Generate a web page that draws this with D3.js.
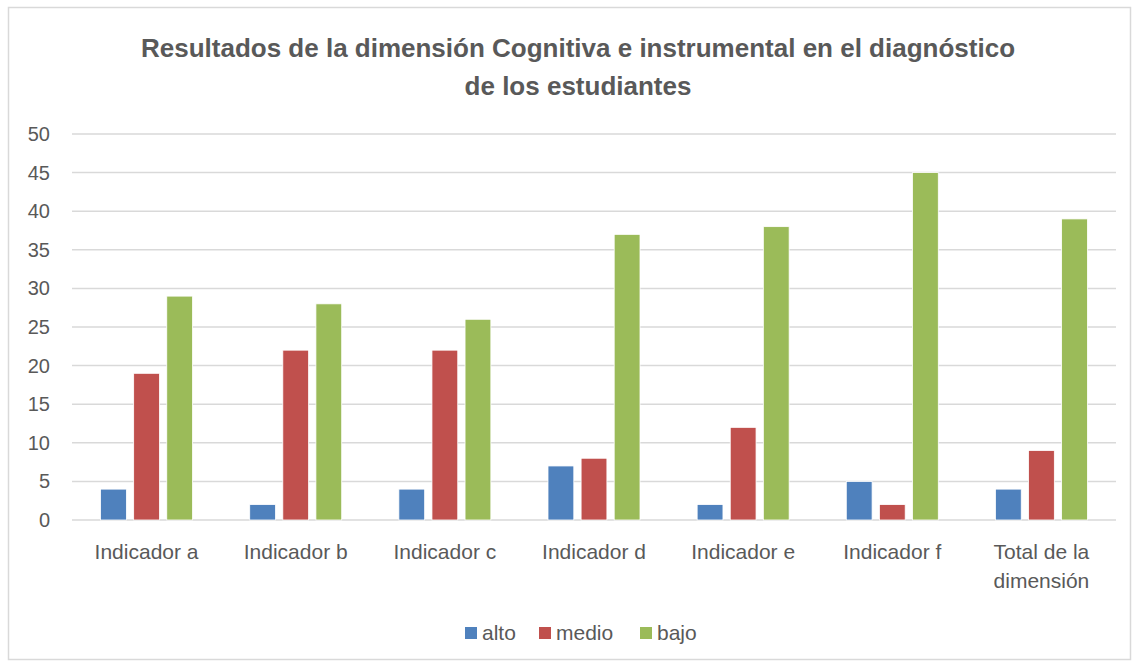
<!DOCTYPE html>
<html>
<head>
<meta charset="utf-8">
<script src="https://cdn.jsdelivr.net/npm/d3@7"></script>
<style>
  body { margin: 0; background: #fff; }
  text { font-family: "Liberation Sans", Arial, sans-serif; }
</style>
</head>
<body>
<div class="chart"></div>
<script>
// chart data
const categories = ["Indicador a", "Indicador b", "Indicador c", "Indicador d", "Indicador e", "Indicador f", "Total de la dimensión"];
const seriesNames = ["alto", "medio", "bajo"];
const alto = [4, 2, 4, 7, 2, 5, 4];
const medio = [19, 22, 22, 8, 12, 2, 9];
const bajo = [29, 28, 26, 37, 38, 45, 39];
const yTicks = [0, 5, 10, 15, 20, 25, 30, 35, 40, 45, 50];
const colors = ["#4F81BD", "#C0504D", "#9BBB59"];

const width = 1142, height = 669;
const margin = {top: 134, right: 26, bottom: 149, left: 72};

let svg = d3.select('.chart').append('svg').attr('width', width).attr('height', height);

// outer frame
svg.append('rect').attr('x', 8.5).attr('y', 7.5).attr('width', 1122).attr('height', 652)
    .style('fill', '#fff').style('stroke', '#D9D9D9').style('stroke-width', 1.5);

// title
let title = svg.append('text').attr('text-anchor', 'middle')
    .style('font-size', '26px').style('font-weight', 'bold').style('fill', '#595959');
title.append('tspan').attr('x', 578).attr('y', 57)
    .text("Resultados de la dimensión Cognitiva e instrumental en el diagnóstico");
title.append('tspan').attr('x', 578).attr('y', 95).text("de los estudiantes");
title.selectAll('tspan').each(function(d, i) {
    let target = i == 0 ? 884 : 232;
    let len = this.getComputedTextLength();
    if (len > target) d3.select(this).attr('textLength', target).attr('lengthAdjust', 'spacingAndGlyphs');
});

let x = d3.scaleBand().domain(categories).range([margin.left, width - margin.right]);
let y = d3.scaleLinear().domain([0, 50]).range([height - margin.bottom, margin.top]);
let inner = d3.scaleBand().domain(seriesNames).range([0, 92]).paddingInner(0.22);

// gridlines
svg.append('g').selectAll('line').data(yTicks).enter().append('line')
    .attr('x1', margin.left).attr('x2', width - margin.right)
    .attr('y1', d => y(d)).attr('y2', d => y(d))
    .style('stroke', '#D9D9D9').style('stroke-width', 1.5);

// y axis labels
let yAxis = d3.axisLeft(y).tickValues(yTicks).tickSize(0).tickPadding(0);
let yg = svg.append('g').attr('transform', 'translate(50,0)').call(yAxis);
yg.select('.domain').remove();
yg.selectAll('text').style('font-size', '20px').style('fill', '#595959')
    .style('font-family', '"Liberation Sans", Arial, sans-serif');

// bars
let rows = categories.map((c, i) => ({cat: c, vals: [alto[i], medio[i], bajo[i]]}));
let groups = svg.append('g').selectAll('g').data(rows).enter().append('g')
    .attr('transform', d => 'translate(' + (x(d.cat) + x.bandwidth() / 2 - 46) + ',0)');
groups.selectAll('rect').data(d => d.vals.map((v, j) => ({name: seriesNames[j], v: v, j: j})))
    .enter().append('rect')
    .attr('x', d => inner(d.name))
    .attr('width', inner.bandwidth())
    .attr('y', d => y(d.v))
    .attr('height', d => y(0) - y(d.v))
    .style('fill', d => colors[d.j])
    .style('stroke', '#fff').style('stroke-width', 0.8);

// category labels
let xl = svg.append('g').selectAll('text').data(categories).enter().append('text')
    .attr('text-anchor', 'middle').attr('y', 559)
    .style('font-size', '21px').style('fill', '#595959');
xl.each(function(d) {
    let cx = x(d) + x.bandwidth() / 2;
    let t = d3.select(this);
    if (d == "Total de la dimensión") {
        t.append('tspan').attr('x', cx).attr('y', 559).text("Total de la");
        t.append('tspan').attr('x', cx).attr('y', 588).text("dimensión");
    } else {
        t.attr('x', cx).text(d);
    }
});

// legend
let legendX = [465, 539, 640];
let legend = svg.append('g').selectAll('g').data(seriesNames).enter().append('g')
    .attr('transform', (d, i) => 'translate(' + legendX[i] + ',627)');
legend.append('rect').attr('width', 12).attr('height', 12)
    .style('fill', (d, i) => colors[i]);
legend.append('text').attr('x', 17).attr('y', 13).text(d => d)
    .style('font-size', '21px').style('fill', '#595959');
</script>
</body>
</html>
